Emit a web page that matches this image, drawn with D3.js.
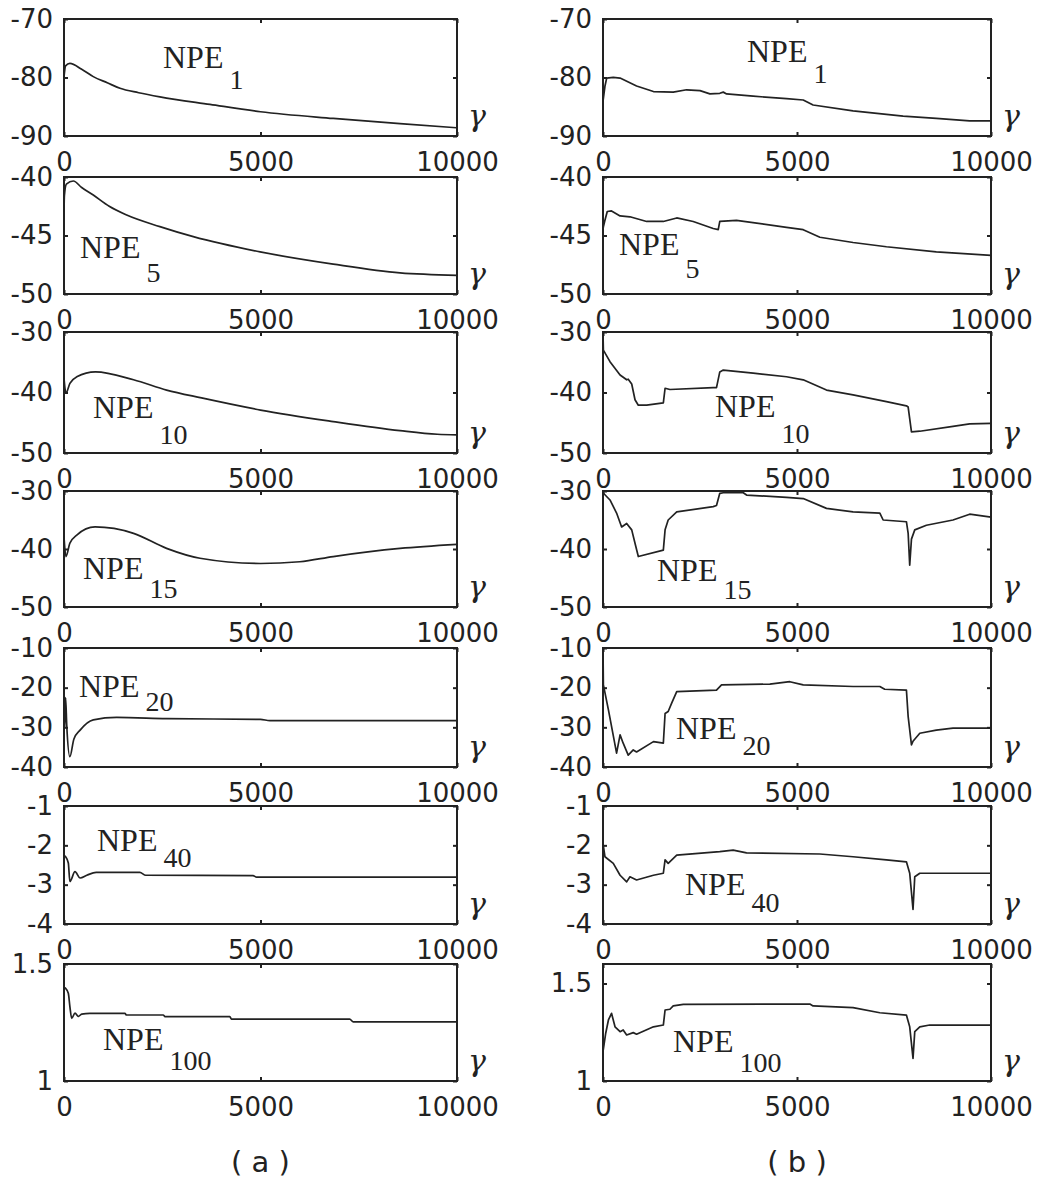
<!DOCTYPE html>
<html lang="en">
<head>
<meta charset="UTF-8">
<title>NPE curves</title>
<script src="https://cdn.jsdelivr.net/npm/d3@7"></script>
<style>
  body { margin: 0; background: #fff; }
  svg { display: block; }
</style>
</head>
<body>
<div id="chart"></div>
<script>
// ---- data ----
const gammaTicks = [0, 5000, 10000];
const panelSubs = ["1", "5", "10", "15", "20", "40", "100"];
const captions = ["( a )", "( b )"];

const yDomainsA = [[-90, -70], [-50, -40], [-50, -30], [-50, -30], [-40, -10], [-4, -1], [1, 1.5]];
const yDomainsB = [[-90, -70], [-50, -40], [-50, -30], [-50, -30], [-40, -10], [-4, -1], [1, 1.6]];
const yTicks = [[-90, -80, -70], [-50, -45, -40], [-50, -40, -30], [-50, -40, -30], [-40, -30, -20, -10], [-4, -3, -2, -1], [1, 1.5]];

// column (a)
const a1 = [[0,-79.9],[40,-78.0],[150,-77.6],[450,-78.6],[745,-79.85],[1100,-80.9],[1425,-81.85],[1900,-82.6],[2440,-83.3],[3715,-84.6],[5000,-85.85],[6850,-87.0],[8550,-87.9],[10000,-88.6]];
const a5 = [[0,-43.0],[10,-41.6],[60,-40.6],[237,-40.34],[450,-40.9],[745,-41.54],[1150,-42.5],[1595,-43.25],[2440,-44.24],[3290,-45.1],[4990,-46.4],[6850,-47.45],[8550,-48.2],[10000,-48.4]];
const a10 = [[0,-37.6],[50,-40.1],[150,-38.5],[325,-37.4],[800,-36.6],[1770,-37.9],[2610,-39.6],[3500,-40.9],[5000,-42.9],[6850,-44.8],[8550,-46.3],[9500,-46.9],[10000,-47.0]];
const a15 = [[0,-37.9],[50,-41.3],[150,-39.0],[325,-37.6],[790,-36.2],[1770,-37.3],[2610,-39.9],[3460,-41.6],[5000,-42.5],[6000,-42.2],[6850,-41.3],[8550,-39.9],[10000,-39.2]];
const a20 = [[0,-20.0],[20,-30.0],[40,-22.5],[70,-29.5],[150,-37.4],[250,-33.0],[410,-30.7],[745,-28.1],[1340,-27.5],[2610,-27.8],[5000,-28.0],[5240,-28.3],[10000,-28.3]];
const a40 = [[0,-2.25],[40,-2.29],[110,-2.45],[150,-2.92],[280,-2.67],[410,-2.83],[580,-2.76],[820,-2.69],[1930,-2.69],[2080,-2.76],[4810,-2.77],[4900,-2.81],[10000,-2.81]];
const a100 = [[0,1.40],[40,1.396],[110,1.375],[150,1.318],[195,1.268],[280,1.29],[365,1.276],[450,1.286],[660,1.289],[1550,1.289],[1590,1.282],[2525,1.282],[2570,1.275],[4220,1.275],[4260,1.264],[7270,1.264],[7360,1.253],[10000,1.253]];

// column (b)
const b1 = [[0,-84.1],[50,-81.5],[95,-80.1],[265,-79.97],[440,-80.1],[865,-81.45],[1300,-82.4],[1810,-82.5],[2155,-82.1],[2500,-82.25],[2755,-82.8],[3010,-82.7],[3100,-82.5],[3185,-82.8],[3870,-83.2],[4730,-83.6],[5160,-83.85],[5415,-84.7],[6445,-85.7],[7735,-86.6],[8590,-87.0],[9450,-87.4],[10000,-87.4]];
const b5 = [[0,-44.5],[10,-44.25],[50,-43.7],[110,-42.95],[220,-42.9],[440,-43.33],[695,-43.4],[1125,-43.8],[1555,-43.8],[1900,-43.5],[2325,-43.8],[2840,-44.4],[2970,-44.5],[3010,-43.8],[3440,-43.7],[4730,-44.3],[5160,-44.5],[5590,-45.15],[6445,-45.6],[7305,-45.96],[8590,-46.4],[10000,-46.7]];
const b10 = [[0,-30.2],[10,-33.0],[180,-34.9],[440,-37.1],[610,-37.9],[650,-37.8],[740,-38.6],[825,-41.2],[910,-42.1],[1125,-42.1],[1555,-41.7],[1600,-39.3],[1725,-39.5],[2840,-39.2],[2925,-39.2],[3010,-36.6],[3100,-36.3],[3870,-36.8],[4730,-37.4],[5160,-37.9],[5760,-39.6],[6445,-40.4],[7305,-41.5],[7820,-42.2],[7865,-42.4],[7950,-46.5],[8165,-46.4],[9020,-45.6],[9450,-45.2],[10000,-45.1]];
const b15 = [[0,-30.3],[180,-31.55],[350,-33.8],[480,-36.2],[610,-35.6],[740,-36.7],[825,-39.0],[910,-41.3],[1555,-40.2],[1600,-36.7],[1680,-35.0],[1900,-33.6],[2840,-32.7],[2925,-32.5],[3010,-30.4],[3100,-30.3],[3615,-30.3],[3700,-30.7],[4730,-31.1],[5160,-31.3],[5760,-33.0],[6445,-33.6],[7135,-33.8],[7220,-35.0],[7820,-35.3],[7865,-37.3],[7905,-42.8],[7950,-38.3],[8035,-36.7],[8335,-35.9],[9020,-35.0],[9450,-34.0],[10000,-34.5]];
const b20 = [[0,-10.1],[10,-19.3],[140,-25.6],[350,-36.5],[440,-31.9],[520,-34.0],[650,-37.0],[780,-35.7],[865,-36.2],[1300,-33.6],[1555,-34.0],[1600,-26.5],[1680,-26.0],[1770,-23.9],[1900,-21.0],[2925,-20.6],[3055,-19.3],[4300,-19.1],[4815,-18.5],[5160,-19.3],[6445,-19.7],[7135,-19.7],[7260,-20.4],[7820,-20.6],[7865,-27.3],[7950,-34.4],[7990,-33.5],[8165,-31.5],[8590,-30.7],[9020,-30.2],[10000,-30.2]];
const b40 = [[0,-1.95],[50,-2.29],[265,-2.46],[440,-2.76],[610,-2.93],[695,-2.80],[865,-2.88],[1300,-2.76],[1555,-2.71],[1600,-2.37],[1680,-2.46],[1900,-2.25],[3010,-2.16],[3355,-2.12],[3700,-2.19],[5590,-2.22],[6445,-2.29],[7305,-2.37],[7820,-2.42],[7905,-2.71],[7990,-3.63],[8035,-2.80],[8165,-2.71],[10000,-2.71]];
const b100 = [[0,1.15],[70,1.245],[140,1.313],[220,1.347],[310,1.278],[440,1.253],[520,1.262],[610,1.236],[780,1.248],[865,1.24],[1300,1.278],[1555,1.287],[1600,1.364],[1725,1.368],[1810,1.385],[2070,1.393],[5330,1.395],[5415,1.385],[6445,1.376],[7135,1.350],[7820,1.338],[7905,1.278],[7990,1.116],[8035,1.253],[8165,1.278],[8420,1.287],[10000,1.287]];

const seriesA = [a1, a5, a10, a15, a20, a40, a100];
const seriesB = [b1, b5, b10, b15, b20, b40, b100];

// ---- layout ----
const width = 1048, height = 1184;
const colLeft = [64, 603], colRight = [457, 991];
const rowTop = [19, 177, 332, 491, 648, 806, 964];
const rowBottom = [136, 294, 453, 607, 767, 924, 1081];
// NPE label offsets inside each panel: [dx, baseline dy, subscript drop]
const labelPosA = [[99,49,21],[16,81,24],[29,86,26],[19,88,19],[15,49,14],[33,45,16],[39,86,20]];
const labelPosB = [[144,43,21],[16,78,23],[112,85,26],[54,90,18],[73,91,16],[82,89,17],[70,88,20]];

const tickFont = "'DejaVu Sans', sans-serif";
const serifFont = "'Liberation Serif', 'Times New Roman', serif";
const ink = "#222";

const svg = d3.select('#chart')
    .append('svg')
    .attr('width', width)
    .attr('height', height);

svg.append('rect').attr('width', width).attr('height', height).attr('fill', '#fff');

// smooth curves on the left, sharp steps on the right
const columns = [
    {series: seriesA, domains: yDomainsA, labels: labelPosA, curve: d3.curveMonotoneX},
    {series: seriesB, domains: yDomainsB, labels: labelPosB, curve: d3.curveLinear}
];

columns.forEach((col, c) => {
    const x = d3.scaleLinear().domain([0, 10000]).range([colLeft[c], colRight[c]]);

    col.series.forEach((data, r) => {
        const y = d3.scaleLinear().domain(col.domains[r]).range([rowBottom[r], rowTop[r]]);
        const g = svg.append('g');

        // bottom axis with labels, inward ticks
        const bottom = g.append('g')
            .attr('transform', `translate(0,${rowBottom[r]})`)
            .call(d3.axisBottom(x).tickValues(gammaTicks).tickSizeInner(-4).tickSizeOuter(0).tickPadding(17).tickFormat(d => String(d)));
        // top axis, ticks only
        const top = g.append('g')
            .attr('transform', `translate(0,${rowTop[r]})`)
            .call(d3.axisTop(x).tickValues(gammaTicks).tickSizeInner(-4).tickSizeOuter(0).tickFormat(''));
        // left axis with labels
        const left = g.append('g')
            .attr('transform', `translate(${colLeft[c]},0)`)
            .call(d3.axisLeft(y).tickValues(yTicks[r]).tickSizeInner(-4).tickSizeOuter(0).tickPadding(11).tickFormat(d => String(d)));
        // right axis, ticks only
        const right = g.append('g')
            .attr('transform', `translate(${colRight[c]},0)`)
            .call(d3.axisRight(y).tickValues(yTicks[r]).tickSizeInner(-4).tickSizeOuter(0).tickFormat(''));

        [bottom, top, left, right].forEach(a => {
            a.select('.domain').remove();
            a.selectAll('line').attr('stroke', ink).attr('stroke-width', 2);
            a.selectAll('text')
                .attr('fill', ink)
                .style('font-family', tickFont)
                .style('font-size', '26px');
        });

        // frame
        g.append('rect')
            .attr('x', colLeft[c])
            .attr('y', rowTop[r])
            .attr('width', colRight[c] - colLeft[c])
            .attr('height', rowBottom[r] - rowTop[r])
            .attr('fill', 'none')
            .attr('stroke', ink)
            .attr('stroke-width', 2);

        // curve
        const line = d3.line()
            .curve(col.curve)
            .x(d => x(d[0]))
            .y(d => y(d[1]));
        g.append('path')
            .datum(data)
            .attr('d', line)
            .attr('fill', 'none')
            .attr('stroke', ink)
            .attr('stroke-width', 1.7)
            .attr('stroke-linejoin', 'round');

        // NPE label with subscript
        const lp = col.labels[r];
        const label = g.append('text')
            .attr('x', colLeft[c] + lp[0])
            .attr('y', rowTop[r] + lp[1])
            .attr('fill', ink)
            .style('font-family', serifFont)
            .style('font-size', '32px');
        label.append('tspan').text('NPE');
        label.append('tspan')
            .attr('dx', 6)
            .attr('dy', lp[2])
            .style('font-size', '28px')
            .text(panelSubs[r]);

        // gamma marker
        g.append('text')
            .attr('x', colRight[c] + 11)
            .attr('y', rowBottom[r] - 10)
            .attr('fill', ink)
            .style('font-family', "'DejaVu Serif', serif")
            .style('font-style', 'italic')
            .style('font-size', '30px')
            .text('γ');
    });

    // column caption
    svg.append('text')
        .attr('x', (colLeft[c] + colRight[c]) / 2)
        .attr('y', 1172)
        .attr('text-anchor', 'middle')
        .attr('fill', ink)
        .style('font-family', tickFont)
        .style('font-size', '29px')
        .text(captions[c]);
});
</script>
</body>
</html>
